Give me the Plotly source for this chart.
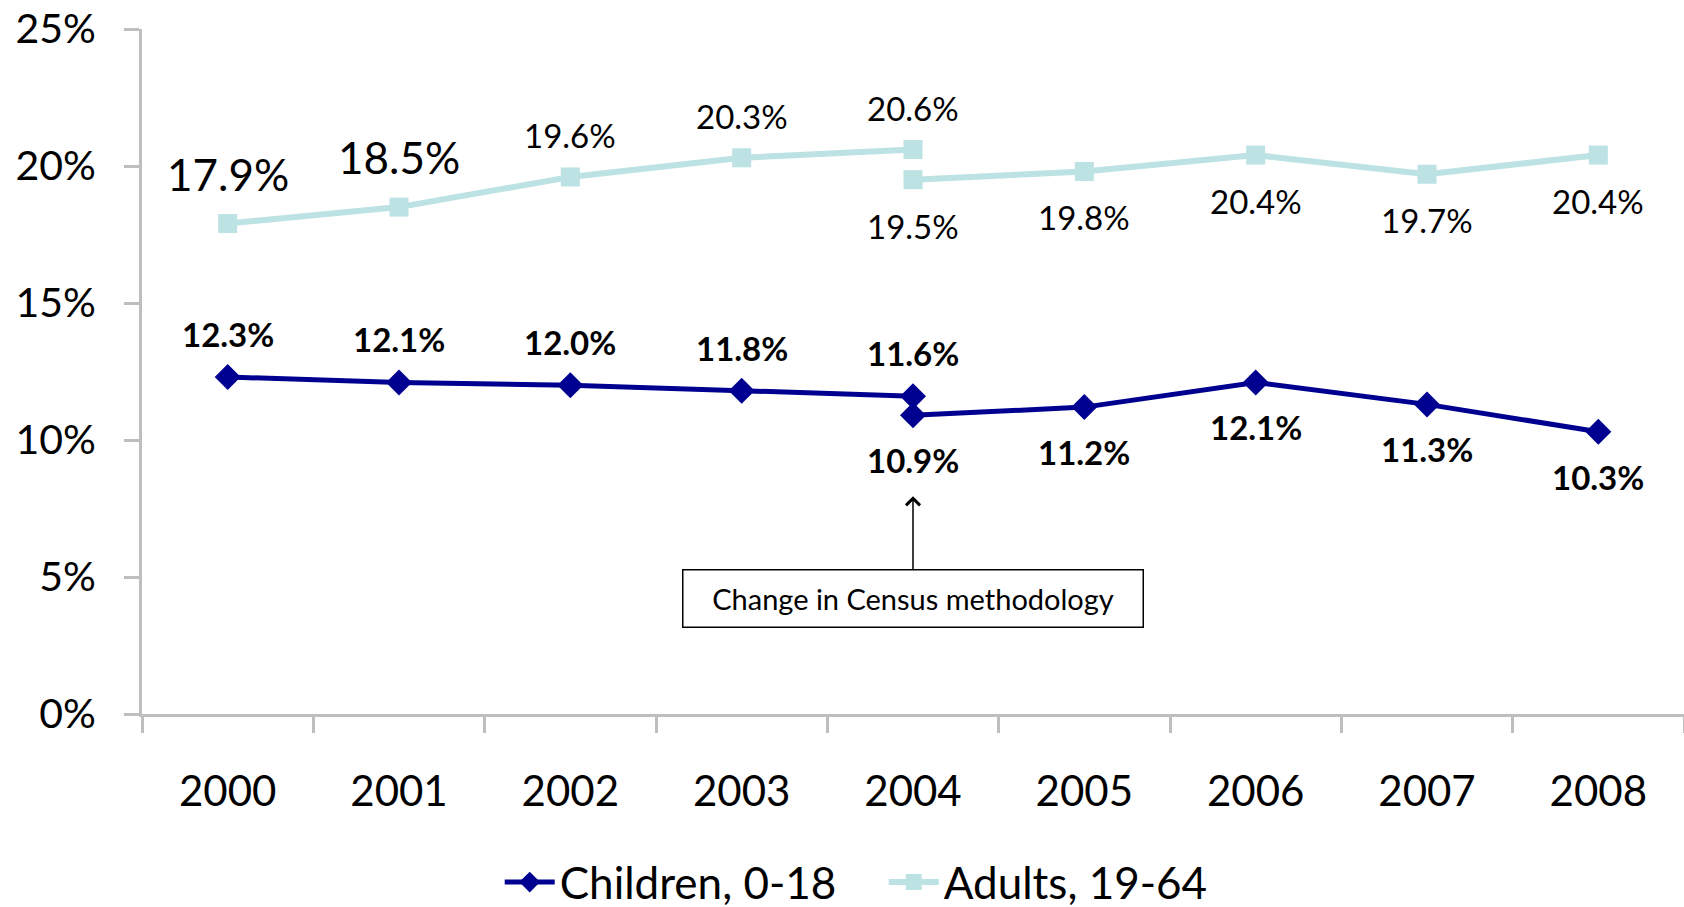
import plotly.graph_objects as go

years = ["2000", "2001", "2002", "2003", "2004", "2005", "2006", "2007", "2008"]
old_years = ["2000", "2001", "2002", "2003", "2004"]
new_years = ["2004", "2005", "2006", "2007", "2008"]

children_old = [12.3, 12.1, 12.0, 11.8, 11.6]
children_new = [10.9, 11.2, 12.1, 11.3, 10.3]
adults_old = [17.9, 18.5, 19.6, 20.3, 20.6]
adults_new = [19.5, 19.8, 20.4, 19.7, 20.4]

y_ticks = [0, 5, 10, 15, 20, 25]
y_tick_text = ["0%", "5%", "10%", "15%", "20%", "25%"]

C_CHILD = "#000090"
C_ADULT = "#BCE2E4"
FONT = "Lato"

fig = go.Figure()

fig.add_trace(go.Scatter(x=old_years, y=children_old, mode="lines+markers",
                         name="Children, 0-18", legendgroup="c",
                         line=dict(color=C_CHILD, width=5),
                         marker=dict(symbol="diamond", size=20, color=C_CHILD)))
fig.add_trace(go.Scatter(x=new_years, y=children_new, mode="lines+markers",
                         name="Children, 0-18", legendgroup="c", showlegend=False,
                         line=dict(color=C_CHILD, width=5),
                         marker=dict(symbol="diamond", size=20, color=C_CHILD)))
fig.add_trace(go.Scatter(x=old_years, y=adults_old, mode="lines+markers",
                         name="Adults, 19-64", legendgroup="a",
                         line=dict(color=C_ADULT, width=6),
                         marker=dict(symbol="square", size=19, color=C_ADULT)))
fig.add_trace(go.Scatter(x=new_years, y=adults_new, mode="lines+markers",
                         name="Adults, 19-64", legendgroup="a", showlegend=False,
                         line=dict(color=C_ADULT, width=6),
                         marker=dict(symbol="square", size=19, color=C_ADULT)))

annotations = []
def lab(x, y, shift, size, bold):
    txt = f"{y:.1f}%"
    if bold:
        txt = f"<b>{txt}</b>"
    annotations.append(dict(x=years.index(x), y=y, xref="x", yref="y", text=txt,
                            showarrow=False, yshift=shift,
                            font=dict(family=FONT, size=size, color="black")))

for i, (x, y) in enumerate(zip(old_years, adults_old)):
    big = i < 2
    lab(x, y, 50 if big else 42, 44 if big else 33, False)
for x, y in zip(new_years, adults_new):
    lab(x, y, -46, 33, False)
for x, y in zip(old_years, children_old):
    lab(x, y, 43, 33, True)
for x, y in zip(new_years, children_new):
    lab(x, y, -45, 33, True)

xi = years.index("2004")
# text box
annotations.append(dict(x=xi, y=4.2, xref="x", yref="y",
                        text="Change in Census methodology", showarrow=False,
                        bordercolor="black", borderwidth=1.5, borderpad=2,
                        width=455, height=52, bgcolor="white",
                        font=dict(family=FONT, size=29, color="black")))
# arrow
annotations.append(dict(x=xi, y=7.95, xref="x", yref="y",
                        ax=xi, ay=5.22, axref="x", ayref="y",
                        text="", showarrow=True,
                        arrowhead=4, arrowsize=1.8, arrowwidth=1.5, arrowcolor="black"))

fig.update_layout(
    width=1684, height=907,
    margin=dict(l=142, r=0, t=29, b=193, autoexpand=False),
    plot_bgcolor="white", paper_bgcolor="white",
    font=dict(family=FONT, color="black"),
    showlegend=True,
    legend=dict(orientation="h", x=0.481, xanchor="center", y=0.027, yanchor="middle",
                yref="container",
                font=dict(family=FONT, size=44, color="black"), itemwidth=50,
                entrywidth=319, bgcolor="rgba(0,0,0,0)"),
    annotations=annotations,
    xaxis=dict(type="category", categoryorder="array", categoryarray=years,
               range=[-0.5, 8.5], showgrid=False, showline=True, linecolor="#BEBEBE",
               linewidth=3, ticks="outside", tickson="boundaries", ticklen=16,
               tickwidth=3, tickcolor="#BEBEBE", ticklabelstandoff=39, automargin=False,
               tickfont=dict(family=FONT, size=42, color="black"), zeroline=False),
    yaxis=dict(range=[0, 25], tickvals=y_ticks, ticktext=y_tick_text, showgrid=False,
               showline=True, linecolor="#BEBEBE", linewidth=3, ticks="outside",
               ticklen=15, tickwidth=3, tickcolor="#BEBEBE", ticklabelstandoff=20,
               automargin=False,
               tickfont=dict(family=FONT, size=41, color="black"), zeroline=False),
)

fig.write_html("out.html")
